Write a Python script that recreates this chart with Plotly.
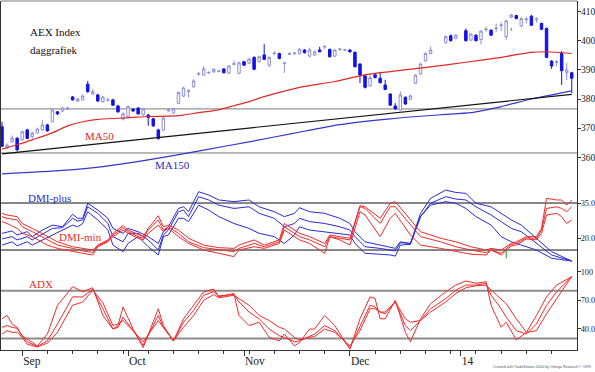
import plotly.graph_objects as go

# ---------------- data ----------------
n_slots = 114
holiday_slots = [86, 87, 91]
slots = [i for i in range(n_slots) if i not in holiday_slots]

opens = [370.5,363.2,365.4,366.5,366.0,369.4,367.1,368.4,369.4,371.1,
         372.2,375.6,375.9,376.5,380.7,379.3,379.7,385.1,381.7,381.4,
         379.1,379.5,379.7,377.6,373.1,374.0,376.5,376.9,374.6,374.5,
         373.2,369.4,369.4,376.0,375.2,378.5,381.0,382.6,384.2,388.5,
         388.2,388.9,389.3,389.4,390.3,388.9,391.9,388.8,392.8,392.3,
         394.3,392.8,395.1,391.6,395.5,395.6,392.1,395.3,395.5,395.6,
         396.8,394.7,395.1,396.8,397.8,397.0,394.7,396.9,396.7,396.8,
         396.0,392.0,387.9,384.5,388.3,387.1,384.8,381.7,377.6,376.2,
         380.6,379.9,385.4,388.6,393.1,395.6,
         399.3,401.7,400.8,
         403.4,400.2,401.9,400.4,403.8,403.6,404.1,405.2,401.4,408.0,
         408.6,405.0,407.2,408.4,407.2,405.9,404.2,393.0,392.5,395.6,
         389.0,389.0]
highs = [372.2,364.8,367.5,367.0,369.2,369.8,368.8,370.2,372.8,371.5,
         376.6,375.9,377.3,377.4,381.0,380.3,381.6,386.2,383.5,381.8,
         381.0,380.4,380.1,378.0,375.4,377.8,376.9,377.2,377.0,374.9,
         373.6,369.8,373.9,376.8,377.0,382.6,384.2,383.4,386.8,389.2,
         391.4,389.5,390.5,389.9,390.6,391.6,393.2,392.8,393.1,394.0,
         394.6,394.9,398.8,394.6,396.4,395.9,392.8,396.0,396.2,397.4,
         397.1,397.6,396.6,397.9,398.6,397.3,397.1,397.5,397.2,397.1,
         396.3,392.3,388.6,388.5,388.9,389.3,386.6,382.0,378.6,382.6,
         380.9,381.5,388.5,392.4,396.0,398.0,
         401.8,402.1,402.2,
         404.2,402.6,402.2,403.6,404.8,403.9,405.8,406.2,407.2,409.2,
         408.9,408.0,408.2,408.8,408.0,406.2,404.5,393.3,393.4,396.5,
         392.3,389.3]
lows = [363.5,362.8,365.0,362.0,365.8,366.2,366.3,368.0,369.0,368.8,
        372.0,374.5,375.6,376.2,379.5,379.0,379.5,382.2,381.5,379.0,
        378.8,379.2,377.6,375.3,372.6,373.6,375.6,374.6,374.3,370.8,
        370.4,366.0,369.0,375.6,374.9,378.2,380.7,380.5,383.9,388.0,
        388.0,388.6,389.0,389.2,388.8,388.6,391.5,388.5,391.3,392.0,
        389.9,392.5,393.3,391.0,395.2,393.6,389.0,395.0,395.2,395.3,
        395.6,394.2,394.8,396.0,397.2,394.2,394.4,396.6,396.4,395.9,
        390.8,385.5,383.6,384.2,387.0,385.3,383.0,377.6,376.3,375.9,
        378.0,379.6,385.1,388.3,392.8,395.3,
        399.0,399.7,400.5,
        399.7,399.9,399.7,398.7,403.0,401.6,403.0,403.3,400.3,407.7,
        407.3,404.7,405.9,405.0,406.2,403.6,394.0,390.3,391.2,384.8,
        386.5,382.0]
closes = [363.8,364.2,366.6,362.6,368.8,366.5,368.3,369.7,371.1,369.1,
          376.2,374.9,376.9,376.9,379.7,380.0,381.0,382.5,382.5,379.3,
          380.7,379.7,377.9,375.6,374.9,377.4,375.9,374.9,376.6,373.7,
          370.8,366.5,373.5,376.2,376.6,382.2,383.8,382.8,386.2,388.7,
          390.3,389.1,390.2,389.6,389.0,391.3,392.1,392.4,391.6,393.7,
          390.2,394.5,393.6,394.3,395.7,393.9,392.3,395.5,395.7,397.0,
          395.9,396.8,396.2,396.2,398.0,394.5,396.8,397.1,396.9,396.2,
          391.1,388.2,384.0,387.3,387.4,385.6,383.3,377.9,376.6,381.4,
          378.3,381.1,388.2,392.0,395.6,396.8,
          401.4,400.0,401.9,
          400.0,402.3,400.0,403.3,404.0,401.9,404.3,405.4,406.8,408.8,
          407.6,407.6,407.4,405.3,407.4,403.9,394.3,391.3,392.7,389.7,
          389.9,387.1]

ma50_idx = [0, 3, 6, 10, 13, 16, 19, 23, 26, 29, 33, 36, 39, 43, 46, 49, 52,
            56, 59, 66, 72, 79, 85, 92, 99, 105, 108, 113]
ma50_val = [362.8, 364.3, 366.0, 368.4, 370.8, 372.2, 373.0, 373.4, 373.7,
            374.0, 374.1, 374.5, 375.3, 376.3, 377.7, 379.1, 380.8, 382.7,
            384.0, 386.0, 388.3, 389.8, 391.0, 392.6, 394.3, 396.0, 396.2, 395.6]

ma150_idx = [0, 12, 20, 29, 40, 49, 58, 67, 77, 87, 93, 99, 105, 113]
ma150_val = [354.3, 355.5, 356.8, 359.1, 362.5, 365.3, 368.3, 371.2, 373.2,
             374.6, 375.3, 377.4, 380.0, 382.8]

trend_idx = [0, 113]
trend_val = [361.2, 381.6]

price_levels = [376.6, 361.5]
dmi_levels = [35, 15]
adx_levels = [80, 30]

dmi_plus_idx = [0,2,3,5,6,8,10,12,14,15,16,17,19,21,22,24,25,27,29,31,
                32,33,35,36,37,39,41,43,46,49,51,54,56,58,59,61,64,67,69,70,
                72,75,77,78,79,81,83,85,88,90,92,94,97,99,101,103,106,109,113]
dmi_plus_1 = [22.1,23.1,21.4,22.8,20.7,23.5,25.6,24.9,30.2,28.5,
              28.5,34.9,32.0,28.5,24.2,22.1,24.2,22.8,20.7,17.8,
              22.8,24.9,32.7,33.4,31.3,39.8,38.4,36.3,35.6,36.3,
              33.4,31.3,29.2,30.6,33.0,31.3,30.6,28.5,26.3,22.8,
              18.5,17.1,16.4,15.7,18.5,17.8,30.6,37.0,40.5,39.5,
              39.1,34.9,33.4,30.6,27.8,25.6,20.0,14.3,10.3]
dmi_plus_2 = [19.7,20.7,19.3,20.7,19.3,21.7,24.2,24.5,28.5,27.3,
              27.8,33.4,30.6,26.3,20.7,18.5,22.1,22.1,19.3,15.0,
              21.4,23.5,31.3,32.0,29.2,37.7,36.3,34.1,32.7,33.4,
              30.6,28.5,24.9,26.3,28.5,27.1,26.3,24.9,23.5,20.7,
              16.4,15.7,15.0,14.6,18.1,17.8,29.2,34.9,37.7,36.7,
              36.3,33.4,29.9,27.1,24.2,22.8,17.8,12.9,10.3]
dmi_plus_3 = [17.1,18.5,16.8,18.5,17.1,19.3,21.4,23.5,25.6,24.9,
              26.3,31.3,27.8,23.5,17.1,14.3,17.8,20.7,16.4,12.9,
              20.7,21.4,28.5,28.5,27.1,34.1,32.0,29.2,26.3,24.2,
              22.1,20.7,17.8,21.4,24.9,23.5,22.8,22.1,21.4,17.8,
              13.6,13.2,12.9,12.4,17.1,17.4,29.2,34.1,35.6,34.9,
              32.7,29.2,25.6,20.7,18.5,17.1,15.0,11.5,10.3]

dmi_min_idx = [0,1,3,4,6,9,11,14,16,18,19,21,22,24,25,27,28,29,31,32,
               33,35,37,40,43,46,47,50,52,55,56,59,61,64,65,67,69,71,72,75,
               77,78,81,83,87,90,93,96,97,99,101,102,104,106,107,108,110,111,112,113]
dmi_min_1 = [30.6,29.9,29.2,26.3,24.2,20.7,18.5,16.4,15.7,15.0,
             17.1,19.3,22.1,25.4,23.5,21.4,20.7,24.2,29.6,24.9,
             25.6,23.5,20.0,17.1,16.0,15.7,17.1,19.3,17.1,19.3,
             26.3,22.1,20.7,17.8,21.4,20.7,20.0,33.9,33.4,28.5,
             34.9,35.6,27.8,22.8,20.0,18.5,16.4,15.0,15.7,15.0,
             17.8,18.5,20.7,20.7,24.2,37.0,36.3,36.3,34.1,36.3]
dmi_min_2 = [29.2,28.5,27.8,24.9,22.8,19.3,17.1,15.7,14.6,14.0,
             16.8,18.8,21.4,24.5,22.8,20.7,20.0,23.5,27.8,23.5,
             24.9,22.1,18.5,16.0,15.0,14.3,15.7,17.8,16.4,18.5,
             24.9,20.7,19.3,16.4,20.7,20.0,19.3,33.4,32.7,26.3,
             33.4,33.4,25.6,20.7,18.5,16.4,15.0,13.9,15.0,13.6,
             17.4,17.8,20.2,20.0,23.5,32.7,33.4,32.7,31.3,33.4]
dmi_min_3 = [27.1,26.3,24.2,22.1,20.7,17.1,15.7,14.3,13.6,12.9,
             16.4,18.5,20.7,23.5,22.1,20.0,19.3,22.1,25.6,22.8,
             24.2,20.7,17.8,15.0,13.6,12.2,15.0,16.4,15.7,17.8,
             23.5,19.3,17.8,13.6,20.7,19.3,17.1,31.3,29.9,20.7,
             28.5,30.6,21.4,17.1,15.7,14.3,13.2,12.9,15.0,12.9,
             16.8,17.1,19.7,19.3,22.1,29.9,30.6,29.2,26.3,27.8]

adx_idx = [0,1,2,3,4,5,7,9,11,14,16,18,20,22,23,24,26,28,31,32,
           34,36,38,40,42,43,46,47,49,51,53,55,56,58,59,61,62,64,66,69,
           71,73,74,75,76,78,80,81,83,85,88,90,92,94,96,97,99,100,102,104,
           106,108,110,113]
adx_1 = [50.6,54.1,45.2,41.7,32.8,29.3,22.2,34.6,64.8,84.3,
         78.9,83.2,54.1,39.9,43.5,63.0,39.9,20.4,61.2,43.5,
         27.5,50.6,64.8,78.9,81.8,73.6,77.2,54.1,43.5,47.0,
         31.1,27.5,34.6,22.2,25.7,39.9,39.9,54.1,43.5,18.7,
         50.6,73.6,71.8,50.6,50.6,70.1,36.4,26.5,50.6,66.5,
         78.9,86.0,90.3,87.8,89.6,64.8,41.7,47.0,28.6,36.4,
         54.1,73.6,86.0,94.9]
adx_2 = [41.7,43.5,41.7,40.7,32.1,26.5,21.5,27.5,45.2,73.6,
         73.6,81.8,61.2,39.9,41.7,52.3,38.2,22.9,54.1,41.7,
         27.5,47.0,59.4,75.4,78.9,74.7,76.1,68.3,57.7,50.6,
         39.9,32.8,31.1,26.5,27.5,32.8,34.6,43.5,38.2,20.4,
         43.5,64.8,63.0,57.7,57.7,68.3,43.5,38.2,48.8,61.2,
         71.8,80.7,86.0,86.0,87.8,75.4,61.2,52.3,38.2,34.6,
         45.2,64.8,78.9,94.9]
adx_3 = [34.6,38.2,36.4,36.4,31.1,24.0,21.1,25.0,36.4,64.8,
         68.3,80.7,67.6,43.5,45.2,48.8,38.2,26.5,48.8,41.7,
         27.5,41.7,54.1,70.1,76.1,72.6,75.4,71.8,64.8,54.1,
         48.8,41.7,39.9,31.1,28.6,31.1,32.1,39.9,36.4,22.2,
         38.2,61.2,61.2,57.7,55.9,68.3,50.6,47.0,48.8,57.7,
         68.3,77.2,83.2,85.3,86.0,80.7,71.8,66.5,50.6,36.4,
         38.2,55.9,71.8,94.9]

price_signal_idx = [101]
price_signal_lo = [403.4]
price_signal_hi = [404.3]
dmi_signal_idx = [100]
dmi_signal_lo = [11.5]
dmi_signal_hi = [15.0]

month_idx = [4, 25, 48, 69, 91]
month_labels = ["Sep", "Oct", "Nov", "Dec", "14"]
week_idx = [4, 9, 14, 19, 24, 29, 34, 39, 44, 49, 54, 59, 64, 69, 74, 79,
            84, 89, 94, 99, 104, 109]

price_ticks = [360, 370, 380, 390, 400, 410]
price_tick_labels = ["360", "370", "380", "390", "400", "410"]
dmi_ticks = [20, 35]
dmi_tick_labels = ["20.0", "35.0"]
adx_ticks = [40, 70, 100]
adx_tick_labels = ["40.0", "70.0", "100"]

# ---------------- styling ----------------
SERIF = "Liberation Serif, Times New Roman, serif"
RED = "#f22a2a"
BLUE = "#2a2ad6"
W, H = 595, 372
ML, MR, MT, MB = 1, 18, 1, 22
PW, PH = W - ML - MR, H - MT - MB


def px_x(px):
    return (px - ML) / PW


def px_y(py):
    return 1 - (py - MT) / PH


fig = go.Figure()

fig.add_trace(go.Candlestick(
    x=slots, open=opens, high=highs, low=lows, close=closes,
    xaxis="x", yaxis="y",
    increasing=dict(line=dict(color="#8f8fd6", width=1), fillcolor="#ffffff"),
    decreasing=dict(line=dict(color="#1212e6", width=1), fillcolor="#1212e6"),
    whiskerwidth=0, hoverinfo="skip", showlegend=False,
))

fig.add_trace(go.Scatter(x=ma50_idx, y=ma50_val, mode="lines", yaxis="y",
                         line=dict(color="#e02828", width=1.2, shape="spline", smoothing=0.6),
                         hoverinfo="skip", showlegend=False))
fig.add_trace(go.Scatter(x=ma150_idx, y=ma150_val, mode="lines", yaxis="y",
                         line=dict(color="#3636c8", width=1.2, shape="spline", smoothing=0.6),
                         hoverinfo="skip", showlegend=False))
fig.add_trace(go.Scatter(x=trend_idx, y=trend_val, mode="lines", yaxis="y",
                         line=dict(color="#111111", width=1.2),
                         hoverinfo="skip", showlegend=False))

for s in (dmi_plus_1, dmi_plus_2, dmi_plus_3):
    fig.add_trace(go.Scatter(x=dmi_plus_idx, y=s, mode="lines", yaxis="y2",
                             line=dict(color=BLUE, width=1), hoverinfo="skip",
                             showlegend=False))
for s in (dmi_min_1, dmi_min_2, dmi_min_3):
    fig.add_trace(go.Scatter(x=dmi_min_idx, y=s, mode="lines", yaxis="y2",
                             line=dict(color=RED, width=1), hoverinfo="skip",
                             showlegend=False))
for s in (adx_1, adx_2, adx_3):
    fig.add_trace(go.Scatter(x=adx_idx, y=s, mode="lines", yaxis="y3",
                             line=dict(color=RED, width=1), hoverinfo="skip",
                             showlegend=False))

for i, lo, hi in zip(price_signal_idx, price_signal_lo, price_signal_hi):
    fig.add_trace(go.Scatter(x=[i, i], y=[lo, hi], mode="lines", yaxis="y",
                             line=dict(color="#1a9a1a", width=1), hoverinfo="skip",
                             showlegend=False))
for i, lo, hi in zip(dmi_signal_idx, dmi_signal_lo, dmi_signal_hi):
    fig.add_trace(go.Scatter(x=[i, i], y=[lo, hi], mode="lines", yaxis="y2",
                             line=dict(color="#1a9a1a", width=1), hoverinfo="skip",
                             showlegend=False))

shapes = []
for v in price_levels:
    shapes.append(dict(type="line", xref="paper", x0=0, x1=1, yref="y", y0=v, y1=v,
                       line=dict(color="#7a7a7a", width=1), layer="below"))
for v in dmi_levels:
    shapes.append(dict(type="line", xref="paper", x0=0, x1=1, yref="y2", y0=v, y1=v,
                       line=dict(color="#111111", width=1), layer="below"))
for v in adx_levels:
    shapes.append(dict(type="line", xref="paper", x0=0, x1=1, yref="y3", y0=v, y1=v,
                       line=dict(color="#8c8c8c", width=2), layer="below"))
shapes.append(dict(type="line", xref="paper", x0=0, x1=1, yref="paper", y0=1, y1=1,
                   line=dict(color="#7a7a7a", width=1)))


def yaxis_common(domain, rng, ticks, labels, fsize):
    return dict(domain=domain, range=rng, side="right", anchor="x",
                automargin=False,
                showline=True, linecolor="#333333", linewidth=1, mirror=True,
                ticks="outside", ticklen=3, tickcolor="#333333",
                ticklabelstandoff=-2,
                tickvals=ticks, ticktext=labels,
                tickfont=dict(family=SERIF, size=fsize, color="#222222"),
                showgrid=False, zeroline=False, fixedrange=True)


d_price = [px_y(176), 1.0]
d_dmi = [px_y(266), px_y(176)]
d_adx = [0.0, px_y(266)]

fig.update_layout(
    width=W, height=H,
    margin=dict(l=ML, r=MR, t=MT, b=MB, pad=0, autoexpand=False),
    paper_bgcolor="white", plot_bgcolor="white",
    showlegend=False,
    xaxis=dict(range=[-0.2, 114.04], anchor="y3", domain=[0, 1],
               automargin=False,
               showline=True, linecolor="#333333", linewidth=1,
               ticks="outside", ticklen=5, tickcolor="#333333",
               tickvals=month_idx, ticktext=month_labels,
               ticklabelposition="outside right",
               tickfont=dict(family=SERIF, size=11.5, color="#222222"),
               minor=dict(tickvals=week_idx, ticks="outside", ticklen=3,
                          tickcolor="#333333", showgrid=False),
               showgrid=False, zeroline=False, fixedrange=True,
               rangeslider=dict(visible=False)),
    yaxis=yaxis_common(d_price, [353.6, 413.6], price_ticks, price_tick_labels, 9.5),
    yaxis2=yaxis_common(d_dmi, [8.2, 46.5], dmi_ticks, dmi_tick_labels, 8.3),
    yaxis3=yaxis_common(d_adx, [17.9, 106.0], adx_ticks, adx_tick_labels, 8.3),
    shapes=shapes,
)


def label(text, px, py, color, size=11):
    return dict(text=text, xref="paper", yref="paper", x=px_x(px), y=px_y(py),
                xanchor="left", yanchor="middle", showarrow=False,
                font=dict(family=SERIF, size=size, color=color))


fig.update_layout(annotations=[
    label("AEX Index", 28, 32, "#111111"),
    label("daggrafiek", 28, 50, "#111111"),
    label("MA50", 83, 136, "#e02828"),
    label("MA150", 153, 165, "#2a2ab8"),
    label("DMI-plus", 26, 198, BLUE),
    label("DMI-min", 57, 237, RED),
    label("ADX", 27, 284, RED),
    dict(text="Created with TradeStation 2000i by Omega Research \u00a9 1999",
         xref="paper", yref="paper", x=px_x(593), y=px_y(367),
         xanchor="right", yanchor="middle", showarrow=False,
         font=dict(family="Liberation Sans, Arial, sans-serif", size=3.6, color="#555555")),
])

fig.write_html("out.html",
               config={"displayModeBar": False, "staticPlot": True},
               post_script="document.body.style.margin='0';document.body.style.overflow='hidden';")
